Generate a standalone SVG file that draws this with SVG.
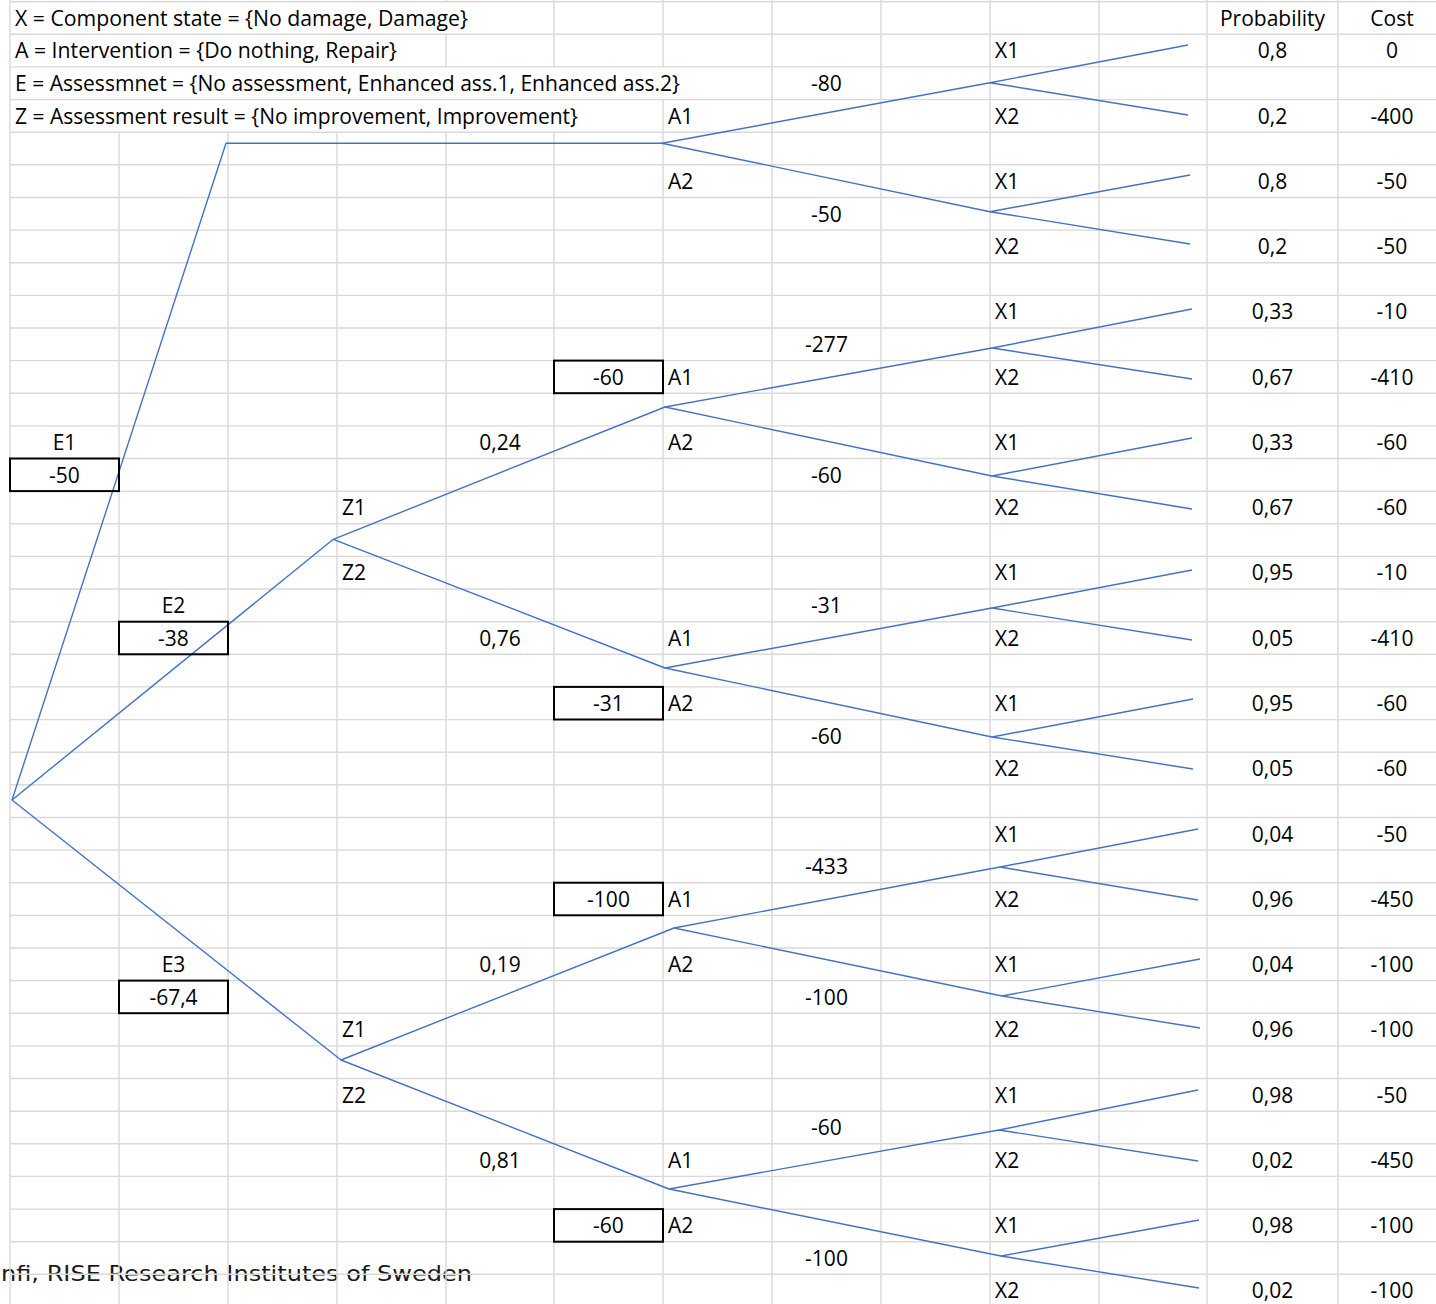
<svg xmlns="http://www.w3.org/2000/svg" width="1436" height="1304" viewBox="0 0 1436 1304">
  <style>
    .grid { stroke: #d9d9d9; stroke-width: 1.4; fill: none; }
    .t { font-family: "Open Sans", "Noto Sans", "Liberation Sans", sans-serif; font-size: 21px; fill: #000; }
    .c { text-anchor: middle; }
    .box { fill: none; stroke: #000; stroke-width: 2; }
    .br { stroke: #4472c4; stroke-width: 1.4; fill: none; stroke-linejoin: round; }
    .cap { font-family: "DejaVu Sans", "Liberation Sans", sans-serif; font-size: 22px; fill: #1a1a1a; }
  </style>
  <rect width="1436" height="1304" fill="#fff"/>

  <!-- caption sits under the sheet grid -->
  <text class="cap" x="1" y="1281" textLength="471" lengthAdjust="spacingAndGlyphs">nfi, RISE Research Institutes of Sweden</text>

  <!-- sheet gridlines -->
  <g id="grid" class="grid">
    <!-- horizontal rows, 32.63 px apart -->
    <path d="M10 1.7H1436 M10 34.3H1436 M10 66.9H1436 M10 99.6H1436 M10 132.2H1436 M10 164.8H1436 M10 197.5H1436 M10 230.1H1436 M10 262.7H1436 M10 295.4H1436 M10 328H1436 M10 360.6H1436 M10 393.3H1436 M10 425.9H1436 M10 458.5H1436 M10 491.2H1436 M10 523.8H1436 M10 556.4H1436 M10 589H1436 M10 621.7H1436 M10 654.3H1436 M10 686.9H1436 M10 719.6H1436 M10 752.2H1436 M10 784.8H1436 M10 817.5H1436 M10 850.1H1436 M10 882.7H1436 M10 915.4H1436 M10 948H1436 M10 980.6H1436 M10 1013.3H1436 M10 1045.9H1436 M10 1078.5H1436 M10 1111.2H1436 M10 1143.8H1436 M10 1176.4H1436 M10 1209.1H1436 M10 1241.7H1436 M10 1274.3H1436"/>
    <!-- vertical columns; header rows hide lines under overflowing text -->
    <path d="M10 0V1304"/>
    <path d="M119 132.2V1304"/>
    <path d="M228 132.2V1304"/>
    <path d="M337 132.2V1304"/>
    <path d="M446 0V1.7 M446 34.3V66.9 M446 132.2V1304"/>
    <path d="M554 0V66.9 M554 132.2V1304"/>
    <path d="M663 0V66.9 M663 99.6V1304"/>
    <path d="M772 0V1304"/>
    <path d="M881 0V1304"/>
    <path d="M990 0V1304"/>
    <path d="M1099 0V1304"/>
    <path d="M1207 0V1304"/>
    <path d="M1338 0V1304"/>
  </g>

  <!-- legend -->
  <g id="legend" class="t">
    <text x="15" y="25.7" textLength="453" lengthAdjust="spacingAndGlyphs">X = Component state = {No damage, Damage}</text>
    <text x="15" y="58.3" textLength="382" lengthAdjust="spacingAndGlyphs">A = Intervention = {Do nothing, Repair}</text>
    <text x="15" y="91" textLength="665" lengthAdjust="spacingAndGlyphs">E = Assessmnet = {No assessment, Enhanced ass.1, Enhanced ass.2}</text>
    <text x="15" y="123.6" textLength="563" lengthAdjust="spacingAndGlyphs">Z = Assessment result = {No improvement, Improvement}</text>
  </g>

  <!-- tree branches -->
  <g id="connectors" class="br">
    <!-- E1: no assessment -->
    <polyline points="12,800 226,143.3 662,143.3"/>
    <polyline points="990,82.7 662,143.3 990,211.7"/>
    <polyline points="1188,45 990,82.7 1188,115"/>
    <polyline points="1190,175 990,211.7 1190,244"/>
    <!-- E2 -->
    <line x1="12" y1="800" x2="333.3" y2="539.3"/>
    <polyline points="665,407 333.3,539.3 665,668"/>
    <polyline points="992,348 665,407 992,476"/>
    <polyline points="1192,309 992,348 1192,379"/>
    <polyline points="1192,438 992,476 1192,509"/>
    <polyline points="992,608 665,668 992,737"/>
    <polyline points="1192,570 992,608 1192,640"/>
    <polyline points="1193,699 992,737 1193,769"/>
    <!-- E3 -->
    <line x1="12" y1="800" x2="341" y2="1060"/>
    <polyline points="674,928 341,1060 669,1189"/>
    <polyline points="1000,867 674,928 1002,996"/>
    <polyline points="1198,829 1000,867 1198,900"/>
    <polyline points="1200,959 1002,996 1200,1028"/>
    <polyline points="999,1130 669,1189 1001,1256"/>
    <polyline points="1198,1090 999,1130 1198,1161"/>
    <polyline points="1199,1220 1001,1256 1199,1288"/>
  </g>

  <!-- assessment nodes -->
  <g id="node-E1" class="t">
    <text class="c" x="64.5" y="449.9">E1</text>
    <rect class="box" x="10" y="458.5" width="109" height="32.6"/>
    <text class="c" x="64.5" y="482.5">-50</text>
  </g>
  <g id="node-E2" class="t">
    <text class="c" x="173.5" y="613">E2</text>
    <rect class="box" x="119" y="621.7" width="109" height="32.6"/>
    <text class="c" x="173.5" y="645.7">-38</text>
  </g>
  <g id="node-E3" class="t">
    <text class="c" x="173.5" y="972">E3</text>
    <rect class="box" x="119" y="980.6" width="109" height="32.6"/>
    <text class="c" x="173.5" y="1004.6">-67,4</text>
  </g>

  <!-- assessment result nodes -->
  <g id="node-Z-E2" class="t">
    <text x="342" y="515.1">Z1</text>
    <text x="342" y="580.4">Z2</text>
    <text class="c" x="500" y="449.9">0,24</text>
    <text class="c" x="500" y="645.7">0,76</text>
  </g>
  <g id="node-Z-E3" class="t">
    <text x="342" y="1037.2">Z1</text>
    <text x="342" y="1102.5">Z2</text>
    <text class="c" x="500" y="972">0,19</text>
    <text class="c" x="500" y="1167.8">0,81</text>
  </g>

  <!-- intervention nodes -->
  <g id="node-A-E1" class="t">
    <text x="668" y="123.6">A1</text>
    <text x="668" y="188.9">A2</text>
    <text class="c" x="826.5" y="91">-80</text>
    <text class="c" x="826.5" y="221.5">-50</text>
  </g>
  <g id="node-A-E2Z1" class="t">
    <rect class="box" x="554" y="360.6" width="109" height="32.6"/>
    <text class="c" x="608.5" y="384.6">-60</text>
    <text x="668" y="384.6">A1</text>
    <text x="668" y="449.9">A2</text>
    <text class="c" x="826.5" y="352">-277</text>
    <text class="c" x="826.5" y="482.5">-60</text>
  </g>
  <g id="node-A-E2Z2" class="t">
    <rect class="box" x="554" y="686.9" width="109" height="32.6"/>
    <text class="c" x="608.5" y="710.9">-31</text>
    <text x="668" y="645.7">A1</text>
    <text x="668" y="710.9">A2</text>
    <text class="c" x="826.5" y="613">-31</text>
    <text class="c" x="826.5" y="743.6">-60</text>
  </g>
  <g id="node-A-E3Z1" class="t">
    <rect class="box" x="554" y="882.7" width="109" height="32.6"/>
    <text class="c" x="608.5" y="906.7">-100</text>
    <text x="668" y="906.7">A1</text>
    <text x="668" y="972">A2</text>
    <text class="c" x="826.5" y="874.1">-433</text>
    <text class="c" x="826.5" y="1004.6">-100</text>
  </g>
  <g id="node-A-E3Z2" class="t">
    <rect class="box" x="554" y="1209.1" width="109" height="32.6"/>
    <text class="c" x="608.5" y="1233">-60</text>
    <text x="668" y="1167.8">A1</text>
    <text x="668" y="1233">A2</text>
    <text class="c" x="826.5" y="1135.1">-60</text>
    <text class="c" x="826.5" y="1265.7">-100</text>
  </g>

  <!-- component state outcomes: label, probability, cost -->
  <g id="outcomes" class="t">
    <text class="c" x="1272.5" y="25.7">Probability</text>
    <text class="c" x="1392" y="25.7">Cost</text>

    <text x="995" y="58.3">X1</text><text class="c" x="1272.5" y="58.3">0,8</text><text class="c" x="1392" y="58.3">0</text>
    <text x="995" y="123.6">X2</text><text class="c" x="1272.5" y="123.6">0,2</text><text class="c" x="1392" y="123.6">-400</text>
    <text x="995" y="188.9">X1</text><text class="c" x="1272.5" y="188.9">0,8</text><text class="c" x="1392" y="188.9">-50</text>
    <text x="995" y="254.1">X2</text><text class="c" x="1272.5" y="254.1">0,2</text><text class="c" x="1392" y="254.1">-50</text>

    <text x="995" y="319.4">X1</text><text class="c" x="1272.5" y="319.4">0,33</text><text class="c" x="1392" y="319.4">-10</text>
    <text x="995" y="384.6">X2</text><text class="c" x="1272.5" y="384.6">0,67</text><text class="c" x="1392" y="384.6">-410</text>
    <text x="995" y="449.9">X1</text><text class="c" x="1272.5" y="449.9">0,33</text><text class="c" x="1392" y="449.9">-60</text>
    <text x="995" y="515.1">X2</text><text class="c" x="1272.5" y="515.1">0,67</text><text class="c" x="1392" y="515.1">-60</text>

    <text x="995" y="580.4">X1</text><text class="c" x="1272.5" y="580.4">0,95</text><text class="c" x="1392" y="580.4">-10</text>
    <text x="995" y="645.7">X2</text><text class="c" x="1272.5" y="645.7">0,05</text><text class="c" x="1392" y="645.7">-410</text>
    <text x="995" y="710.9">X1</text><text class="c" x="1272.5" y="710.9">0,95</text><text class="c" x="1392" y="710.9">-60</text>
    <text x="995" y="776.2">X2</text><text class="c" x="1272.5" y="776.2">0,05</text><text class="c" x="1392" y="776.2">-60</text>

    <text x="995" y="841.5">X1</text><text class="c" x="1272.5" y="841.5">0,04</text><text class="c" x="1392" y="841.5">-50</text>
    <text x="995" y="906.7">X2</text><text class="c" x="1272.5" y="906.7">0,96</text><text class="c" x="1392" y="906.7">-450</text>
    <text x="995" y="972">X1</text><text class="c" x="1272.5" y="972">0,04</text><text class="c" x="1392" y="972">-100</text>
    <text x="995" y="1037.2">X2</text><text class="c" x="1272.5" y="1037.2">0,96</text><text class="c" x="1392" y="1037.2">-100</text>

    <text x="995" y="1102.5">X1</text><text class="c" x="1272.5" y="1102.5">0,98</text><text class="c" x="1392" y="1102.5">-50</text>
    <text x="995" y="1167.8">X2</text><text class="c" x="1272.5" y="1167.8">0,02</text><text class="c" x="1392" y="1167.8">-450</text>
    <text x="995" y="1233">X1</text><text class="c" x="1272.5" y="1233">0,98</text><text class="c" x="1392" y="1233">-100</text>
    <text x="995" y="1298.3">X2</text><text class="c" x="1272.5" y="1298.3">0,02</text><text class="c" x="1392" y="1298.3">-100</text>
  </g>
</svg>
